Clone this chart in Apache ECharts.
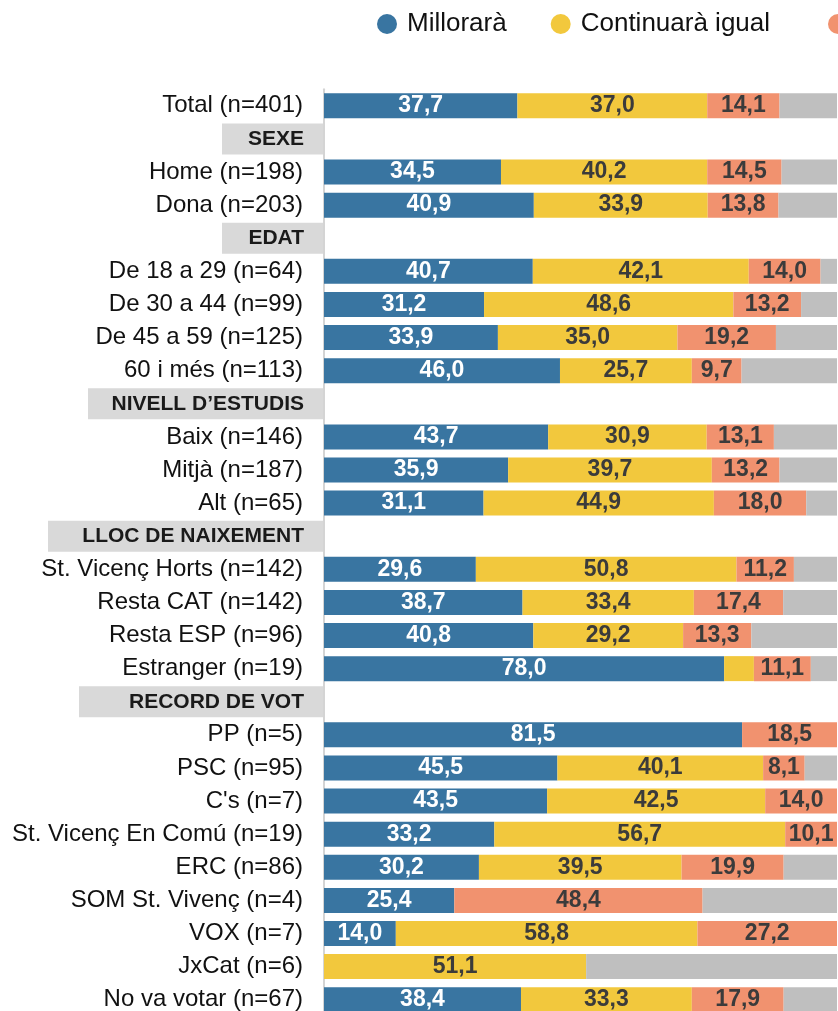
<!DOCTYPE html>
<html><head><meta charset="utf-8">
<script src="https://cdn.jsdelivr.net/npm/echarts@6/dist/echarts.min.js"></script>
<style>html,body{margin:0;padding:0;background:#fff}#c{width:838px;height:1011px}</style>
</head><body><div id="c"></div>
<script>
const categories = [
  'Total (n=401)', 'SEXE', 'Home (n=198)', 'Dona (n=203)', 'EDAT',
  'De 18 a 29 (n=64)', 'De 30 a 44 (n=99)', 'De 45 a 59 (n=125)', '60 i més (n=113)',
  'NIVELL D’ESTUDIS', 'Baix (n=146)', 'Mitjà (n=187)', 'Alt (n=65)',
  'LLOC DE NAIXEMENT', 'St. Vicenç Horts (n=142)', 'Resta CAT (n=142)', 'Resta ESP (n=96)', 'Estranger (n=19)',
  'RECORD DE VOT', 'PP (n=5)', 'PSC (n=95)', "C's (n=7)", 'St. Vicenç En Comú (n=19)', 'ERC (n=86)',
  'SOM St. Vivenç (n=4)', 'VOX (n=7)', 'JxCat (n=6)', 'No va votar (n=67)'
];
const headers = ['SEXE', 'EDAT', 'NIVELL D’ESTUDIS', 'LLOC DE NAIXEMENT', 'RECORD DE VOT'];
const seriesNames = ['Millorarà', 'Continuarà igual', 'Empitjorarà', 'NS/NC'];
const millorara   = [37.7,null,34.5,40.9,null,40.7,31.2,33.9,46.0,null,43.7,35.9,31.1,null,29.6,38.7,40.8,78.0,null,81.5,45.5,43.5,33.2,30.2,25.4,14.0,0,38.4];
const continuara  = [37.0,null,40.2,33.9,null,42.1,48.6,35.0,25.7,null,30.9,39.7,44.9,null,50.8,33.4,29.2,5.8,null,0,40.1,42.5,56.7,39.5,0,58.8,51.1,33.3];
const empitjorara = [14.1,null,14.5,13.8,null,14.0,13.2,19.2,9.7,null,13.1,13.2,18.0,null,11.2,17.4,13.3,11.1,null,18.5,8.1,14.0,10.1,19.9,48.4,27.2,0,17.9];
const nsnc        = [11.2,null,10.8,11.4,null,3.2,7.0,11.9,18.6,null,12.3,11.2,6.0,null,8.4,10.5,16.7,5.1,null,0,6.3,0,0,10.4,26.2,0,48.9,10.4];

const FONT = "'Liberation Sans', Arial, sans-serif";
const colors = ['#3975a1', '#f2c83d', '#f1926f', '#bfbfbf'];
const labelColors = ['#ffffff', '#3b3b3b', '#3b3b3b', '#3b3b3b'];
const headerBoxW = [101, 101, 235, 275, 244];

const rich = {
  n: { fontSize: 24, color: '#111', fontFamily: FONT, padding: [0, 20, 0, 0] }
};
headerBoxW.forEach((w, i) => {
  rich['h' + i] = {
    fontSize: 21, fontWeight: 'bold', color: '#1a1a1a', fontFamily: FONT,
    backgroundColor: '#d9d9d9', width: w - 19, height: 31, lineHeight: 31,
    align: 'right', padding: [0, 19, 0, 0]
  };
});

const legendBase = {
  top: 6, width: 1500, itemWidth: 20, itemHeight: 20, icon: 'circle', itemGap: 44,
  textStyle: { fontSize: 26, color: '#111', fontFamily: FONT, padding: [0, 0, 0, 5] }
};

const seriesData = [millorara, continuara, empitjorara, nsnc];
const chart = echarts.init(document.getElementById('c'), null, { renderer: 'canvas' });
chart.setOption({
  animation: false,
  textStyle: { fontFamily: FONT },
  color: colors,
  legend: [
    Object.assign({}, legendBase, { left: 372, data: seriesNames.slice(0, 2) }),
    Object.assign({}, legendBase, { left: 823, data: seriesNames.slice(2) })
  ],
  grid: { left: 324, top: 89.25, width: 513, height: 927, containLabel: false, outerBoundsMode: 'none' },
  xAxis: { type: 'value', min: 0, max: 100, show: false },
  yAxis: {
    type: 'category', data: categories, inverse: true,
    axisTick: { show: false },
    axisLine: { show: true, lineStyle: { color: '#d4d4d4', width: 2 } },
    axisLabel: {
      interval: 0, margin: 1,
      formatter: v => {
        const hi = headers.indexOf(v);
        return hi >= 0 ? '{h' + hi + '|' + v + '}' : '{n|' + v + '}';
      },
      rich: rich
    }
  },
  series: seriesNames.map((name, i) => ({
    name: name, type: 'bar', stack: 'total', barWidth: 25,
    data: seriesData[i],
    itemStyle: { color: colors[i] },
    label: {
      show: i < 3, position: 'inside', fontSize: 23, fontWeight: 'bold',
      fontFamily: FONT, color: labelColors[i],
      formatter: p => (typeof p.value === 'number' && p.value >= 7) ? p.value.toFixed(1).replace('.', ',') : ''
    }
  }))
});
</script></body></html>
